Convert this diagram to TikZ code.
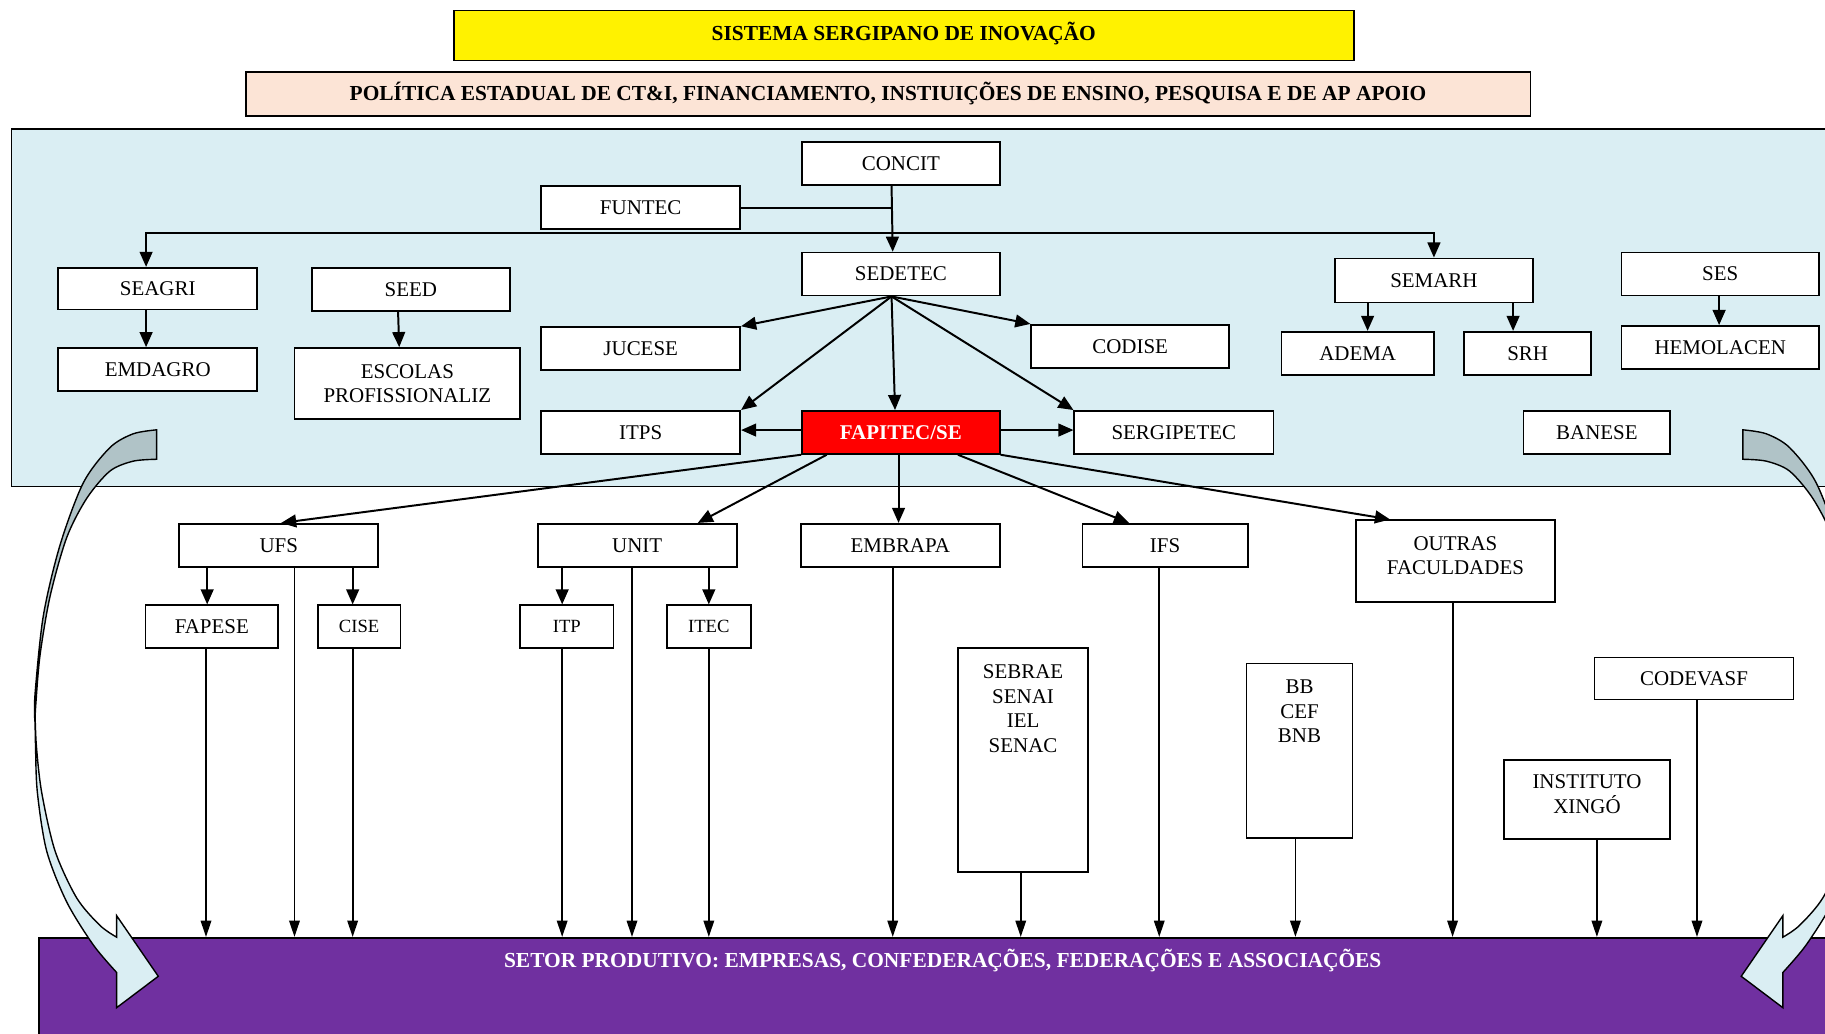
\documentclass[tikz,border=0pt]{standalone}
\usepackage{fontspec}
\setmainfont{Liberation Serif}
\usetikzlibrary{arrows.meta,calc}
\definecolor{panelblue}{HTML}{DAEEF3}
\definecolor{peach}{HTML}{FCE4D6}
\definecolor{spurple}{HTML}{7030A0}
\definecolor{darkband}{HTML}{B0C3C7}
\definecolor{lightband}{HTML}{DAEEF3}
\newcommand\mycurvedarrow{%
  \filldraw[fill=darkband, line width=0.6pt]
    plot[smooth] coordinates {(134.6,369.3) (114.5,372.7) (94.5,384.5) (71.6,414.8) (51.5,468.6) (37.2,529.2) (30.1,596.5) (30,620)}
    -- plot[smooth] coordinates {(30,620) (30.9,603.2) (34.4,562.9) (43,512.4) (57.3,461.9) (74.5,428.2) (94.5,404.7) (114.5,396.2) (134.6,394.6)}
    -- cycle;
  \filldraw[fill=lightband, line width=0.6pt]
    plot[smooth] coordinates {(30,608) (30.5,640) (32.1,680.7) (40.1,731.1) (57.3,774.9) (80.2,811.9) (100.2,835.5)}
    -- (100.2,865.8) -- (136,838.8) -- (100.2,786.7) -- (100.2,805.2)
    -- plot[smooth] coordinates {(100.2,805.2) (85.9,795.1) (65.9,771.5) (47.3,731.1) (35.8,680.7) (31.2,640) (30,608)}
    -- cycle;
}
\begin{document}
\begin{tikzpicture}[x=0.5pt,y=-0.5pt,
  font=\fontsize{9}{10.5}\selectfont,
  box/.style={draw, fill=white, line width=0.7pt, inner sep=0pt, align=center},
  bx/.style 2 args={box, minimum width=#1pt, minimum height=#2pt},
  txt/.style={inner sep=0pt, align=center},
  hdr/.style={inner sep=0pt, font=\fontsize{9.2}{10.5}\selectfont\bfseries},
  arr/.style={line width=0.85pt, -{Triangle[length=6.5pt,width=5.5pt]}},
  darr/.style={line width=0.8pt, -{Triangle[length=7pt,width=4.5pt]}},
  ln/.style={line width=0.85pt},
]
\useasboundingbox (0,0) rectangle (1568,888);
\clip (0,0) rectangle (1568,888);

% headers
\node[draw, fill=yellow, line width=0.8pt, minimum width=386.5pt, minimum height=21.5pt] (title) at (776.5,30.5) {};
\node[hdr] (titletxt) at (776.5,28.5) {SISTEMA SERGIPANO DE INOVAÇÃO};
\node[draw, fill=peach, line width=0.8pt, minimum width=552pt, minimum height=19pt] (policy) at (763,81) {};
\node[hdr] (policytxt) at (763,80.5) {POLÍTICA ESTADUAL DE CT\&I, FINANCIAMENTO, INSTIUIÇÕES DE ENSINO, PESQUISA E DE AP APOIO};

% panels
\draw[fill=panelblue, line width=0.7pt] (10,111) rectangle (1600,418);
\node[draw, fill=spurple, line width=0.7pt, minimum width=790pt, minimum height=50pt, anchor=north west, inner sep=0pt] (SP) at (33,805) {};
\node[hdr, text=white] (sptext) at (810,825) {SETOR PRODUTIVO: EMPRESAS, CONFEDERAÇÕES, FEDERAÇÕES E ASSOCIAÇÕES};

% upper boxes
\node[bx={85}{18.5}] (CONCIT) at (774,140.5) {CONCIT};
\node[bx={85.5}{18.5}] (FUNTEC) at (550.5,178.5) {FUNTEC};
\node[bx={85.5}{18}] (SEAGRI) at (135.5,248) {SEAGRI};
\node[bx={85}{18.5}] (SEED) at (353,248.5) {SEED};
\node[bx={85}{18.5}] (SEDETEC) at (774,235.5) {SEDETEC};
\node[bx={85}{19}] (SEMARH) at (1232,241) {SEMARH};
\node[bx={85}{18.5}] (SES) at (1478,235.5) {SES};
\node[bx={85.5}{18.5}] (EMDAGRO) at (135.5,317.5) {EMDAGRO};
\node[bx={97}{30.5}] (ESCOLAS) at (350,329.5) {ESCOLAS\\PROFISSIONALIZ};
\node[bx={85.5}{18.5}] (JUCESE) at (550.5,299.5) {JUCESE};
\node[bx={85}{18.5}] (CODISE) at (971,297.5) {CODISE};
\node[bx={65.5}{18.5}] (ADEMA) at (1166.5,303.5) {ADEMA};
\node[bx={54.5}{18.5}] (SRH) at (1312.5,303.5) {SRH};
\node[bx={85}{18.5}] (HEMOLACEN) at (1478,298.5) {HEMOLACEN};
\node[bx={85.5}{18.5}] (ITPS) at (550.5,371.5) {ITPS};
\node[bx={85}{18.5}, fill=red, text=white, font=\fontsize{9}{10.5}\selectfont\bfseries] (FAPITEC) at (774,371.5) {FAPITEC/SE};
\node[bx={85.5}{18.5}] (SERGIPETEC) at (1008.5,371.5) {SERGIPETEC};
\node[bx={63}{18.5}] (BANESE) at (1372,371.5) {BANESE};

% lower boxes
\node[bx={85.5}{18.5}] (UFS) at (239.5,468.5) {UFS};
\node[bx={85.5}{18.5}] (UNIT) at (547.5,468.5) {UNIT};
\node[bx={85.5}{18.5}] (EMBRAPA) at (773.5,468.5) {EMBRAPA};
\node[bx={71}{18.5}] (IFS) at (1001,468.5) {IFS};
\node[bx={85.5}{35}] (OUTRAS) at (1250.5,482) {};
\node[txt] (OUTRAStxt) at (1250.5,477.5) {OUTRAS\\FACULDADES};
\node[bx={57}{18.5}] (FAPESE) at (182,538.5) {FAPESE};
\node[bx={35.5}{18.5}, font=\fontsize{8}{9.5}\selectfont] (CISE) at (308.5,538.5) {CISE};
\node[bx={40}{18.5}, font=\fontsize{8}{9.5}\selectfont] (ITP) at (487,538.5) {ITP};
\node[bx={36}{18.5}, font=\fontsize{8}{9.5}\selectfont] (ITEC) at (609,538.5) {ITEC};
\node[bx={56}{96}] (SEBRAE) at (879,653) {};
\node[txt, anchor=north] (SEBRAEtxt) at (879,571) {SEBRAE\\SENAI\\IEL\\SENAC};
\node[bx={45.5}{75}] (BB) at (1116.5,645) {};
\node[txt, anchor=north] (BBtxt) at (1116.5,584) {BB\\CEF\\BNB};
\node[bx={85.5}{18}] (CODEVASF) at (1455.5,583) {CODEVASF};
\node[bx={71.5}{34}] (XINGO) at (1363.5,687) {};
\node[txt] (XINGOtxt) at (1363.5,682.5) {INSTITUTO\\XINGÓ};

% upper connectors
\coordinate (bus) at (766,200);
\draw[arr] ($(CONCIT.south)+(-8,0)$) -- ($(SEDETEC.north)+(-7,0)$);
\draw[ln] (FUNTEC.east) -- ++(130,0);
\draw[line width=0.85pt, {Triangle[length=6.5pt,width=5.5pt]}-{Triangle[length=6.5pt,width=5.5pt]}]
  ($(SEAGRI.north)+(-10,0)$) |- (bus) -| (SEMARH.north);
\draw[arr] ($(SEAGRI.south)+(-10,0)$) -- ($(EMDAGRO.north)+(-10,0)$);
\draw[arr] ($(SEED.south)+(-11,0)$) -- ($(ESCOLAS.north)+(-7,0)$);
\draw[arr] ($(SEMARH.south)+(-57,0)$) -- ($(ADEMA.north)+(8.5,0)$);
\draw[arr] ($(SEMARH.south)+(68,0)$) -- ($(SRH.north)+(-12.5,0)$);
\draw[arr] ($(SES.south)+(-1,0)$) -- ($(HEMOLACEN.north)+(-1,0)$);

\coordinate (sd) at ($(SEDETEC.south)+(-8,0)$);
\draw[arr] (sd) -- (JUCESE.north east);
\draw[arr] (sd) -- (CODISE.north west);
\draw[arr] (sd) -- (ITPS.north east);
\draw[arr] (sd) -- ($(FAPITEC.north)+(-5,0)$);
\draw[arr] (sd) -- (SERGIPETEC.north west);
\draw[arr] ($(FAPITEC.west)+(0,-2)$) -- ($(ITPS.east)+(0,-2)$);
\draw[arr] ($(FAPITEC.east)+(0,-2)$) -- ($(SERGIPETEC.west)+(0,-2)$);

\draw[arr] (FAPITEC.south west) -- ($(UFS.north)+(2,0)$);
\draw[arr] ($(FAPITEC.south west)+(22,0)$) -- ($(UNIT.north)+(52,0)$);
\draw[arr] ($(FAPITEC.south)+(-2,0)$) -- ($(EMBRAPA.north)+(-1.5,0)$);
\draw[arr] ($(FAPITEC.south)+(49,0)$) -- ($(IFS.north)+(-31,0)$);
\draw[arr] (FAPITEC.south east) -- ($(OUTRAS.north west)+(30,0)$);

\draw[arr] ($(UFS.south)+(-61.5,0)$) -- ($(FAPESE.north)+(-4,0)$);
\draw[arr] ($(UFS.south)+(63.5,0)$) -- ($(CISE.north)+(-5.5,0)$);
\draw[arr] ($(UNIT.south)+(-64.5,0)$) -- ($(ITP.north)+(-4,0)$);
\draw[arr] ($(UNIT.south)+(61.5,0)$) -- (ITEC.north);

% lines down to the productive sector
\draw[darr] ($(FAPESE.south)+(-5,0)$) coordinate (d1) -- (d1 |- SP.north);
\draw[darr] ($(UFS.south)+(13.5,0)$) coordinate (d2) -- (d2 |- SP.north);
\draw[darr] ($(CISE.south)+(-5.5,0)$) coordinate (d3) -- (d3 |- SP.north);
\draw[darr] ($(ITP.south)+(-4,0)$) coordinate (d4) -- (d4 |- SP.north);
\draw[darr] ($(UNIT.south)+(-4.5,0)$) coordinate (d5) -- (d5 |- SP.north);
\draw[darr] (ITEC.south) coordinate (d6) -- (d6 |- SP.north);
\draw[darr] ($(EMBRAPA.south)+(-6.5,0)$) coordinate (d7) -- (d7 |- SP.north);
\draw[darr] ($(SEBRAE.south)+(-2,0)$) coordinate (d8) -- (d8 |- SP.north);
\draw[darr] ($(IFS.south)+(-5,0)$) coordinate (d9) -- (d9 |- SP.north);
\draw[darr] ($(BB.south)+(-3.5,0)$) coordinate (d10) -- (d10 |- SP.north);
\draw[darr] ($(OUTRAS.south)+(-2.5,0)$) coordinate (d11) -- (d11 |- SP.north);
\draw[darr] ($(XINGO.south)+(8.5,0)$) coordinate (d12) -- (d12 |- SP.north);
\draw[darr] ($(CODEVASF.south)+(2.5,0)$) coordinate (d13) -- (d13 |- SP.north);

% curved block arrows
\mycurvedarrow
\begin{scope}[shift={(1632,0)}, xscale=-1]
\mycurvedarrow
\end{scope}
\end{tikzpicture}
\end{document}
